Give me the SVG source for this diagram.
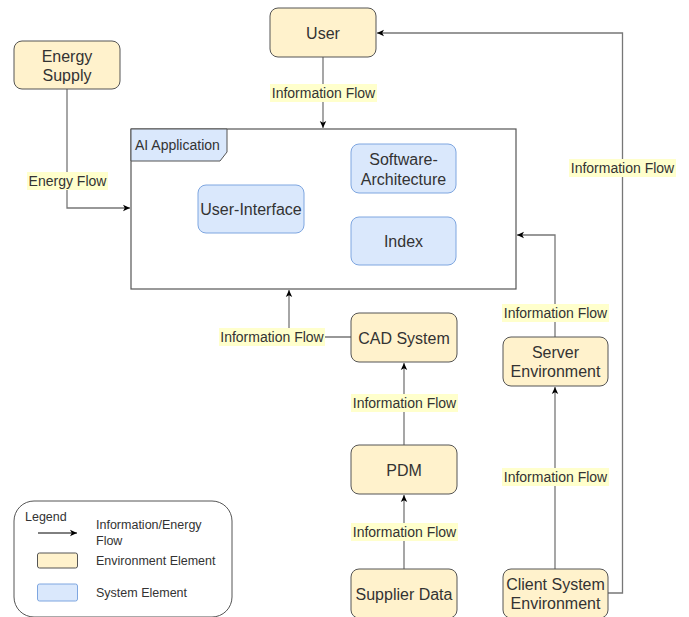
<svg xmlns="http://www.w3.org/2000/svg" width="689" height="617" viewBox="0 0 689 617">
<defs>
<marker id="arr" markerWidth="8" markerHeight="8" refX="7" refY="4" orient="auto" markerUnits="userSpaceOnUse">
<path d="M0,0.8 L7,4 L0,7.2 L1.8,4 Z" fill="#000"/>
</marker>
<style>
.env{fill:#fff2cc;stroke:#555;stroke-width:1}
.sys{fill:#dae8fc;stroke:#7ea6e0;stroke-width:1}
.t{font-family:"Liberation Sans",Arial,sans-serif;font-size:16px;fill:#333;text-anchor:middle;dominant-baseline:central}
.lt{font-family:"Liberation Sans",Arial,sans-serif;font-size:14px;fill:#333;text-anchor:middle;dominant-baseline:central}
.lg{font-family:"Liberation Sans",Arial,sans-serif;font-size:12.5px;fill:#333}
.lbg{fill:#ffffcc}
.c{fill:none;stroke:#777;stroke-width:1.3;marker-end:url(#arr)}
.cn{fill:none;stroke:#777;stroke-width:1.3}
</style>
</defs>
<rect width="689" height="617" fill="#fff"/>

<g id="ai-application">
<rect x="131" y="129" width="385" height="160" fill="#fff" stroke="#555" stroke-width="1.2"/>
<polygon points="131,129 227,129 227,152 220,161 131,161" fill="#dae8fc" stroke="#555" stroke-width="1"/>
<text x="135" y="145" class="lt" style="text-anchor:start">AI Application</text>
</g>

<g id="connectors">
<path class="c" d="M323,57 L323,128"/>
<path class="c" d="M67,89 L67,208 L130,208"/>
<path class="c" d="M608,593 L622.5,593 L622.5,33 L377,33"/>
<path class="c" d="M555,337 L555,235 L517,235"/>
<path class="c" d="M555,569 L555,387"/>
<path class="c" d="M351,337 L289,337 L289,290"/>
<path class="c" d="M404,445 L404,363"/>
<path class="c" d="M404,569 L404,495"/>
<g id="labels">
<rect class="lbg" x="270" y="84" width="107" height="18"/>
<text x="323.5" y="93" class="lt">Information Flow</text>
<rect class="lbg" x="27" y="172" width="81" height="18"/>
<text x="67.5" y="181" class="lt">Energy Flow</text>
<rect class="lbg" x="569" y="159" width="107" height="18"/>
<text x="622.5" y="168" class="lt">Information Flow</text>
<rect class="lbg" x="502" y="304" width="107" height="18"/>
<text x="555.5" y="313" class="lt">Information Flow</text>
<rect class="lbg" x="502" y="468" width="107" height="18"/>
<text x="555.5" y="477" class="lt">Information Flow</text>
<rect class="lbg" x="219" y="328" width="106" height="18"/>
<text x="272" y="337" class="lt">Information Flow</text>
<rect class="lbg" x="351" y="394" width="107" height="18"/>
<text x="404.5" y="403" class="lt">Information Flow</text>
<rect class="lbg" x="351" y="523" width="107" height="18"/>
<text x="404.5" y="532" class="lt">Information Flow</text>
</g>
</g>

<g id="user">
<rect class="env" x="270" y="8" width="106" height="49" rx="8"/>
<text x="323" y="33" class="t">User</text>
</g>
<g id="energy-supply">
<rect class="env" x="14" y="41" width="106" height="48" rx="8"/>
<text x="67" y="56" class="t">Energy</text>
<text x="67" y="75" class="t">Supply</text>
</g>
<g id="user-interface">
<rect class="sys" x="198" y="185" width="106" height="48" rx="8"/>
<text x="251" y="209" class="t">User-Interface</text>
</g>
<g id="software-architecture">
<rect class="sys" x="351" y="144" width="105" height="49" rx="8"/>
<text x="403.5" y="159" class="t">Software-</text>
<text x="403.5" y="179" class="t">Architecture</text>
</g>
<g id="index">
<rect class="sys" x="351" y="217" width="105" height="48" rx="8"/>
<text x="403.5" y="241" class="t">Index</text>
</g>
<g id="cad-system">
<rect class="env" x="351" y="313" width="106" height="49" rx="8"/>
<text x="404" y="338" class="t">CAD System</text>
</g>
<g id="pdm">
<rect class="env" x="351" y="445" width="106" height="49" rx="8"/>
<text x="404" y="470" class="t">PDM</text>
</g>
<g id="supplier-data">
<rect class="env" x="351" y="569" width="106" height="49" rx="8"/>
<text x="404" y="594" class="t">Supplier Data</text>
</g>
<g id="server-environment">
<rect class="env" x="503" y="337" width="105" height="49" rx="8"/>
<text x="555.5" y="352" class="t">Server</text>
<text x="555.5" y="371" class="t">Environment</text>
</g>
<g id="client-system-environment">
<rect class="env" x="503" y="569" width="105" height="49" rx="8"/>
<text x="555.5" y="584" class="t">Client System</text>
<text x="555.5" y="603" class="t">Environment</text>
</g>

<g id="legend">
<rect x="14" y="501" width="218" height="116" rx="20" fill="#fff" stroke="#555" stroke-width="1"/>
<text x="25" y="521" class="lg">Legend</text>
<path d="M38,533 L77,533" fill="none" stroke="#000" stroke-width="1" marker-end="url(#arr)"/>
<text x="96" y="529" class="lg">Information/Energy</text>
<text x="96" y="545" class="lg">Flow</text>
<rect x="37.5" y="553" width="40" height="15" rx="2" class="env"/>
<text x="96" y="565" class="lg">Environment Element</text>
<rect x="37.5" y="584" width="40" height="17" rx="2" class="sys"/>
<text x="96" y="597" class="lg">System Element</text>
</g>
</svg>
